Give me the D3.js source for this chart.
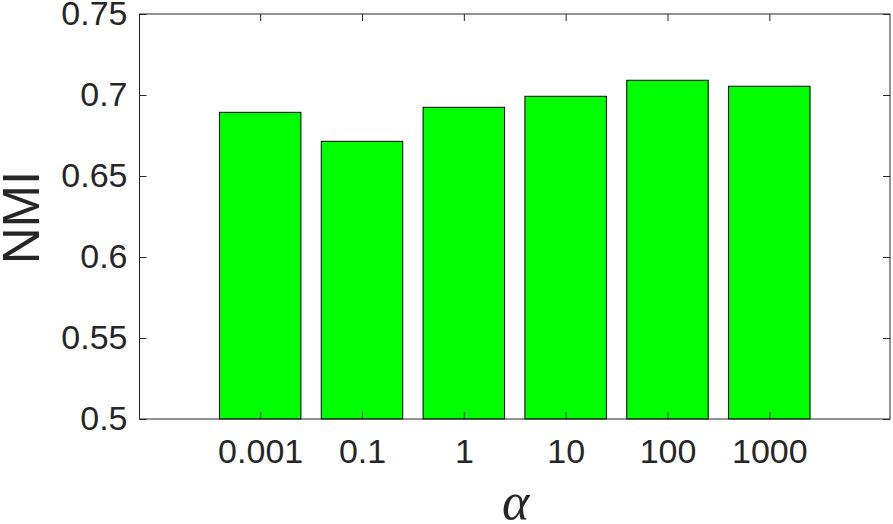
<!DOCTYPE html>
<html>
<head>
<meta charset="utf-8">
<script src="https://cdn.jsdelivr.net/npm/d3@7"></script>
<style>
  html, body { margin: 0; padding: 0; background: #fff; }
  svg { display: block; }
</style>
</head>
<body>
<svg id="chart" width="893" height="524"></svg>
<script>
const categories = ["0.001", "0.1", "1", "10", "100", "1000"];
const nmiValues = [0.6893, 0.6714, 0.6924, 0.6992, 0.7091, 0.7054];
const yTicks = [0.5, 0.55, 0.6, 0.65, 0.7, 0.75];
const yTickLabels = ["0.5", "0.55", "0.6", "0.65", "0.7", "0.75"];

const W = 893, H = 524;
const margin = { left: 139.5, right: 3, top: 14, bottom: 105 };
const plotL = margin.left, plotR = W - margin.right, plotT = margin.top, plotB = H - margin.bottom;
const axisColor = "#262626";
const tickLen = 7;
const font = "'Liberation Sans', Arial, Helvetica, sans-serif";

const svg = d3.select("#chart");

const x = d3.scaleLinear().domain([-0.185, 7.185]).range([plotL, plotR]);
const y = d3.scaleLinear().domain([0.5, 0.75]).range([plotB, plotT]);
const barW = 0.8;

svg.append("g").selectAll("rect").data(nmiValues).join("rect")
  .attr("x", (d, i) => x(i + 1 - barW / 2))
  .attr("width", (d, i) => x(i + 1 + barW / 2) - x(i + 1 - barW / 2))
  .attr("y", d => y(d))
  .attr("height", d => y(0.5) - y(d))
  .attr("fill", "#00ff00")
  .attr("stroke", "#000")
  .attr("stroke-width", 1);

svg.append("rect")
  .attr("x", plotL).attr("y", plotT)
  .attr("width", plotR - plotL).attr("height", plotB - plotT)
  .attr("fill", "none").attr("stroke", axisColor).attr("stroke-width", 1);

const positions = categories.map((c, i) => i + 1);

const xAxisB = d3.axisBottom(x).tickValues(positions)
  .tickFormat((d, i) => categories[i]).tickSizeInner(-tickLen).tickSizeOuter(0).tickPadding(20);
const gxb = svg.append("g").attr("transform", `translate(0,${plotB})`).call(xAxisB);
gxb.select(".domain").remove();
gxb.selectAll(".tick line").attr("stroke", axisColor);
gxb.selectAll(".tick text").attr("fill", axisColor).style("font-family", font).style("font-size", "34px");

const xAxisT = d3.axisTop(x).tickValues(positions).tickFormat("").tickSizeInner(-tickLen).tickSizeOuter(0);
const gxt = svg.append("g").attr("transform", `translate(0,${plotT})`).call(xAxisT);
gxt.select(".domain").remove();
gxt.selectAll(".tick line").attr("stroke", axisColor);

const yAxisL = d3.axisLeft(y).tickValues(yTicks)
  .tickFormat((d, i) => yTickLabels[i]).tickSizeInner(-tickLen).tickSizeOuter(0).tickPadding(12);
const gyl = svg.append("g").attr("transform", `translate(${plotL},0)`).call(yAxisL);
gyl.select(".domain").remove();
gyl.selectAll(".tick line").attr("stroke", axisColor);
gyl.selectAll(".tick text").attr("fill", axisColor).style("font-family", font).style("font-size", "34px");

const yAxisR = d3.axisRight(y).tickValues(yTicks).tickFormat("").tickSizeInner(-tickLen).tickSizeOuter(0);
const gyr = svg.append("g").attr("transform", `translate(${plotR},0)`).call(yAxisR);
gyr.select(".domain").remove();
gyr.selectAll(".tick line").attr("stroke", axisColor);

svg.append("text")
  .attr("transform", `translate(39,${(plotT + plotB) / 2 + 1}) rotate(-90)`)
  .attr("text-anchor", "middle")
  .attr("fill", axisColor)
  .style("font-family", font).style("font-size", "51px")
  .text("NMI");

svg.append("text")
  .attr("x", (plotL + plotR) / 2 + 1).attr("y", 519)
  .attr("text-anchor", "middle")
  .attr("fill", axisColor)
  .style("font-family", "'Liberation Serif', 'DejaVu Serif', serif")
  .style("font-style", "italic")
  .style("font-size", "52px")
  .text("α");
</script>
</body>
</html>
